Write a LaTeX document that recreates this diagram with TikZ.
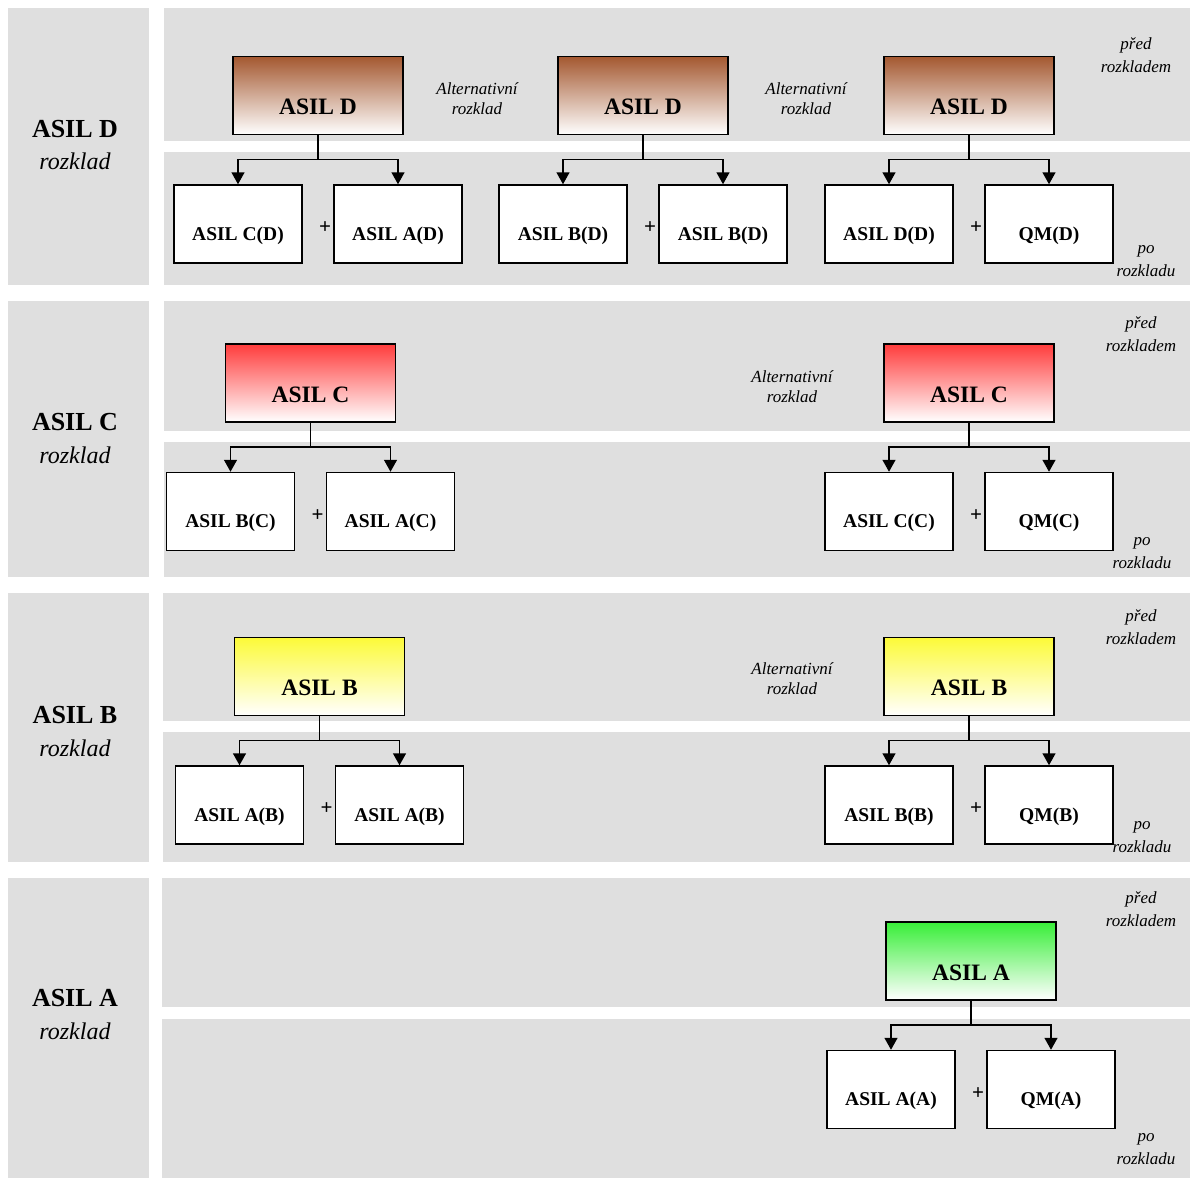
\documentclass[tikz,border=0pt]{standalone}
\usepackage{fontspec}
\setmainfont{Liberation Serif}
\usepackage{tikz}
\usetikzlibrary{positioning,arrows.meta}
\definecolor{panelgrey}{RGB}{223,223,223}
\definecolor{asilD}{RGB}{164,88,48}
\definecolor{asilC}{RGB}{255,60,60}
\definecolor{asilB}{RGB}{252,250,56}
\definecolor{asilA}{RGB}{56,238,56}
\tikzstyle{goal}=[draw=black, line width=1.5pt, bottom color=white,
        minimum width=170pt, minimum height=78pt, inner sep=0pt,
        text height=38pt, text depth=0pt,
        font=\fontsize{23.5}{26}\selectfont\bfseries]
\tikzstyle{part}=[draw=black, fill=white, line width=1.5pt,
        minimum width=128pt, minimum height=78pt, inner sep=0pt,
        text height=32pt, text depth=0pt,
        font=\fontsize{19.5}{22}\selectfont\bfseries]
\tikzstyle{plus}=[inner sep=0pt, yshift=-4pt, font=\fontsize{21}{21}\selectfont\bfseries]
\tikzstyle{title}=[anchor=base, inner sep=0pt, font=\fontsize{26}{30}\selectfont\bfseries]
\tikzstyle{sub}=[anchor=base, inner sep=0pt, font=\fontsize{24}{30}\selectfont\itshape]
\tikzstyle{note}=[align=center, inner sep=0pt, font=\fontsize{17}{23}\selectfont\itshape]
\tikzstyle{alt}=[align=center, inner sep=0pt, font=\fontsize{17}{20}\selectfont\itshape]
\tikzstyle{link}=[line width=1.5pt, -{Triangle[length=12pt, width=13pt]}]

\begin{document}
\begin{tikzpicture}[x=1pt, y=-1pt]

    \useasboundingbox (0,0) rectangle (1190,1178);

    % grey bands
    \fill[panelgrey] (8,8) rectangle (149,285);
    \fill[panelgrey] (8,301) rectangle (149,577);
    \fill[panelgrey] (8,593) rectangle (149,862);
    \fill[panelgrey] (8,878) rectangle (149,1178);
    \fill[panelgrey] (164,8) rectangle (1190,141);
    \fill[panelgrey] (164,152) rectangle (1190,285);
    \fill[panelgrey] (164,301) rectangle (1190,431);
    \fill[panelgrey] (164,442) rectangle (1190,577);
    \fill[panelgrey] (163,593) rectangle (1190,721);
    \fill[panelgrey] (163,732) rectangle (1190,862);
    \fill[panelgrey] (162,878) rectangle (1190,1007);
    \fill[panelgrey] (162,1019) rectangle (1190,1178);

    % ASIL D
    \node[title] (tD) at (75,137) {ASIL D};
    \node[sub] (sD) at (75,169) {rozklad};

    \node[goal, top color=asilD] (d1) at (318,95.5) {ASIL D};
    \node[part, below=49pt of d1, xshift=-80pt] (d1a) {ASIL C(D)};
    \node[part, below=49pt of d1, xshift=80pt] (d1b) {ASIL A(D)};
    \node[plus, left=2pt of d1b] (d1p) {+};
    \draw[link] (d1.south) -- ++(0,24) -| (d1a.north);
    \draw[link] (d1.south) -- ++(0,24) -| (d1b.north);

    \node[goal, top color=asilD] (d2) at (643,95.5) {ASIL D};
    \node[part, below=49pt of d2, xshift=-80pt] (d2a) {ASIL B(D)};
    \node[part, below=49pt of d2, xshift=80pt] (d2b) {ASIL B(D)};
    \node[plus, left=2pt of d2b] (d2p) {+};
    \draw[link] (d2.south) -- ++(0,24) -| (d2a.north);
    \draw[link] (d2.south) -- ++(0,24) -| (d2b.north);

    \node[goal, top color=asilD] (d3) at (969,95.5) {ASIL D};
    \node[part, below=49pt of d3, xshift=-80pt] (d3a) {ASIL D(D)};
    \node[part, below=49pt of d3, xshift=80pt] (d3b) {QM(D)};
    \node[plus, left=2pt of d3b] (d3p) {+};
    \draw[link] (d3.south) -- ++(0,24) -| (d3a.north);
    \draw[link] (d3.south) -- ++(0,24) -| (d3b.north);

    \node[alt] (altD1) at (477,99) {Alternativní\\rozklad};
    \node[alt] (altD2) at (806,99) {Alternativní\\rozklad};
    \node[note] (preD) at (1136,55) {před\\rozkladem};
    \node[note] (poD) at (1146,261) {po\\rozkladu};

    % ASIL C
    \node[title] (tC) at (75,430) {ASIL C};
    \node[sub] (sC) at (75,463) {rozklad};

    \node[goal, top color=asilC] (c1) at (310.5,383) {ASIL C};
    \node[part, below=49pt of c1, xshift=-80pt] (c1a) {ASIL B(C)};
    \node[part, below=49pt of c1, xshift=80pt] (c1b) {ASIL A(C)};
    \node[plus, left=2pt of c1b] (c1p) {+};
    \draw[link] (c1.south) -- ++(0,24) -| (c1a.north);
    \draw[link] (c1.south) -- ++(0,24) -| (c1b.north);

    \node[goal, top color=asilC] (c2) at (969,383) {ASIL C};
    \node[part, below=49pt of c2, xshift=-80pt] (c2a) {ASIL C(C)};
    \node[part, below=49pt of c2, xshift=80pt] (c2b) {QM(C)};
    \node[plus, left=2pt of c2b] (c2p) {+};
    \draw[link] (c2.south) -- ++(0,24) -| (c2a.north);
    \draw[link] (c2.south) -- ++(0,24) -| (c2b.north);

    \node[alt] (altC) at (792,387) {Alternativní\\rozklad};
    \node[note] (preC) at (1141,334) {před\\rozkladem};
    \node[note] (poC) at (1142,553) {po\\rozkladu};

    % ASIL B
    \node[title] (tB) at (75,723) {ASIL B};
    \node[sub] (sB) at (75,756) {rozklad};

    \node[goal, top color=asilB] (b1) at (319.5,676.5) {ASIL B};
    \node[part, below=49pt of b1, xshift=-80pt] (b1a) {ASIL A(B)};
    \node[part, below=49pt of b1, xshift=80pt] (b1b) {ASIL A(B)};
    \node[plus, left=2pt of b1b] (b1p) {+};
    \draw[link] (b1.south) -- ++(0,24) -| (b1a.north);
    \draw[link] (b1.south) -- ++(0,24) -| (b1b.north);

    \node[goal, top color=asilB] (b2) at (969,676.5) {ASIL B};
    \node[part, below=49pt of b2, xshift=-80pt] (b2a) {ASIL B(B)};
    \node[part, below=49pt of b2, xshift=80pt] (b2b) {QM(B)};
    \node[plus, left=2pt of b2b] (b2p) {+};
    \draw[link] (b2.south) -- ++(0,24) -| (b2a.north);
    \draw[link] (b2.south) -- ++(0,24) -| (b2b.north);

    \node[alt] (altB) at (792,679) {Alternativní\\rozklad};
    \node[note] (preB) at (1141,627) {před\\rozkladem};
    \node[note] (poB) at (1142,837) {po\\rozkladu};

    % ASIL A
    \node[title] (tA) at (75,1006) {ASIL A};
    \node[sub] (sA) at (75,1039) {rozklad};

    \node[goal, top color=asilA] (a1) at (971,961) {ASIL A};
    \node[part, below=49pt of a1, xshift=-80pt] (a1a) {ASIL A(A)};
    \node[part, below=49pt of a1, xshift=80pt] (a1b) {QM(A)};
    \node[plus, left=2pt of a1b] (a1p) {+};
    \draw[link] (a1.south) -- ++(0,24) -| (a1a.north);
    \draw[link] (a1.south) -- ++(0,24) -| (a1b.north);

    \node[note] (preA) at (1141,909) {před\\rozkladem};
    \node[note] (poA) at (1146,1149) {po\\rozkladu};

\end{tikzpicture}
\end{document}
